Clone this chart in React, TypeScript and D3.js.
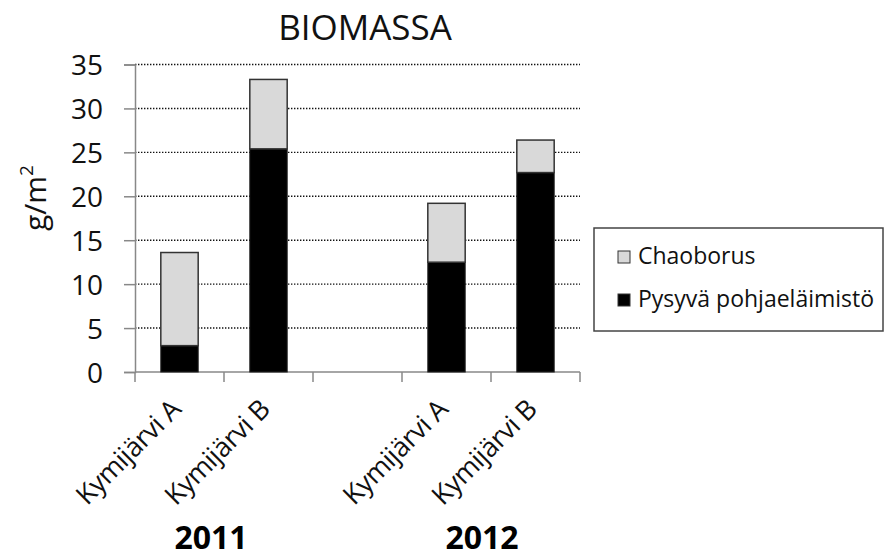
import React, { useEffect, useRef } from "react";
import * as d3 from "d3";

// data
const categories = ["2011 A", "2011 B", "", "2012 A", "2012 B"];
const catLabels = ["Kymijärvi A", "Kymijärvi B", "", "Kymijärvi A", "Kymijärvi B"];
const pysyva = [3.0, 25.4, 0, 12.5, 22.7];
const chaoborus = [10.6, 7.9, 0, 6.7, 3.7];
const yTicks = [0, 5, 10, 15, 20, 25, 30, 35];
const years = ["2011", "2012"];
const seriesNames = ["Chaoborus", "Pysyvä pohjaeläimistö"];

const FONT = "'Open Sans', sans-serif";

const App = () => {
  const ref = useRef<SVGSVGElement>(null);

  useEffect(() => {
    const width = 886;
    const height = 559;
    const margin = { top: 64.5, left: 135, bottom: 187, right: 306 };

    const svg = d3.select(ref.current);
    svg.selectAll("*").remove();
    svg.attr("width", width).attr("height", height);

    const x = d3
      .scaleBand()
      .domain(categories.map((c, i) => i + ":" + c))
      .range([margin.left, width - margin.right])
      .padding(0);

    const y = d3
      .scaleLinear()
      .domain([0, 35])
      .range([height - margin.bottom, margin.top]);

    const key = (i: number) => i + ":" + categories[i];

    // title
    svg
      .append("text")
      .attr("x", 365)
      .attr("y", 40)
      .attr("text-anchor", "middle")
      .attr("font-family", FONT)
      .attr("font-size", 35)
      .attr("fill", "#111")
      .text("BIOMASSA");

    // grid lines
    svg
      .append("g")
      .selectAll("line")
      .data(yTicks.filter((t) => t > 0))
      .enter()
      .append("line")
      .attr("x1", margin.left)
      .attr("x2", width - margin.right)
      .attr("y1", (d) => y(d))
      .attr("y2", (d) => y(d))
      .attr("stroke", "#111")
      .attr("stroke-width", 1.4)
      .attr("stroke-dasharray", "1.4,1.6");

    // y axis
    const yAxis = (g: any) =>
      g
        .attr("transform", `translate(${margin.left}, 0)`)
        .call(d3.axisLeft(y).tickValues(yTicks).tickSize(11).tickPadding(21))
        .call((g: any) => g.selectAll("line").attr("stroke", "#888").attr("stroke-width", 1.5))
        .call((g: any) => g.select(".domain").attr("stroke", "#888").attr("stroke-width", 1.5))
        .call((g: any) =>
          g
            .selectAll("text")
            .attr("font-family", FONT)
            .attr("font-size", 28)
            .attr("fill", "#111")
            .attr("dy", "0.36em")
        );
    svg.append("g").call(yAxis).attr("font-size", null).attr("font-family", null);

    // x axis line + boundary ticks
    const xg = svg.append("g");
    xg.append("line")
      .attr("x1", margin.left)
      .attr("x2", width - margin.right)
      .attr("y1", y(0))
      .attr("y2", y(0))
      .attr("stroke", "#888")
      .attr("stroke-width", 1.5);
    const bounds = categories.map((c, i) => x(key(i)) as number).concat([width - margin.right]);
    xg.selectAll(".xt")
      .data(bounds)
      .enter()
      .append("line")
      .attr("x1", (d) => d)
      .attr("x2", (d) => d)
      .attr("y1", y(0))
      .attr("y2", y(0) + 10)
      .attr("stroke", "#888")
      .attr("stroke-width", 1.5);

    // stacked bars
    const barW = x.bandwidth() * 0.42;
    const idx = categories.map((c, i) => i).filter((i) => categories[i] !== "");
    const bars = svg.append("g");
    bars
      .selectAll(".low")
      .data(idx)
      .enter()
      .append("rect")
      .attr("x", (i) => (x(key(i)) as number) + (x.bandwidth() - barW) / 2)
      .attr("y", (i) => y(pysyva[i]))
      .attr("width", barW)
      .attr("height", (i) => y(0) - y(pysyva[i]))
      .attr("fill", "#000")
      .attr("stroke", "#222")
      .attr("stroke-width", 1);
    bars
      .selectAll(".high")
      .data(idx)
      .enter()
      .append("rect")
      .attr("x", (i) => (x(key(i)) as number) + (x.bandwidth() - barW) / 2)
      .attr("y", (i) => y(pysyva[i] + chaoborus[i]))
      .attr("width", barW)
      .attr("height", (i) => y(pysyva[i]) - y(pysyva[i] + chaoborus[i]))
      .attr("fill", "#d9d9d9")
      .attr("stroke", "#333")
      .attr("stroke-width", 1.5);

    // category labels, rotated
    svg
      .append("g")
      .selectAll("text")
      .data(idx)
      .enter()
      .append("text")
      .attr(
        "transform",
        (i) => `translate(${(x(key(i)) as number) + x.bandwidth() / 2 + 3}, 411) rotate(-45)`
      )
      .attr("text-anchor", "end")
      .attr("font-family", FONT)
      .attr("font-size", 27)
      .attr("letter-spacing", -0.4)
      .attr("fill", "#111")
      .text((i) => catLabels[i]);

    // year labels
    const yearX = [
      ((x(key(0)) as number) + (x(key(1)) as number) + x.bandwidth()) / 2 - 13,
      ((x(key(3)) as number) + (x(key(4)) as number) + x.bandwidth()) / 2 - 9,
    ];
    svg
      .append("g")
      .selectAll("text")
      .data(years)
      .enter()
      .append("text")
      .attr("x", (d, i) => yearX[i])
      .attr("y", 549)
      .attr("text-anchor", "middle")
      .attr("font-family", FONT)
      .attr("font-weight", "bold")
      .attr("font-size", 32)
      .attr("fill", "#000")
      .text((d) => d);

    // y label
    const yl = svg
      .append("text")
      .attr("transform", "translate(46, 198) rotate(-90)")
      .attr("text-anchor", "middle")
      .attr("font-family", FONT)
      .attr("font-size", 30)
      .attr("fill", "#111");
    yl.append("tspan").text("g/m");
    yl.append("tspan").attr("font-size", 19).attr("dy", -13).text("2");

    // legend
    const lg = svg.append("g");
    lg.append("rect")
      .attr("x", 594)
      .attr("y", 228)
      .attr("width", 289)
      .attr("height", 103)
      .attr("fill", "#fff")
      .attr("stroke", "#444")
      .attr("stroke-width", 1.5);
    const legendColors = ["#d9d9d9", "#000"];
    const item = lg
      .selectAll(".item")
      .data(seriesNames)
      .enter()
      .append("g")
      .attr("transform", (d, i) => `translate(0, ${i * 43})`);
    item
      .append("rect")
      .attr("x", 618)
      .attr("y", 251)
      .attr("width", 12)
      .attr("height", 12)
      .attr("fill", (d, i) => legendColors[i])
      .attr("stroke", "#333")
      .attr("stroke-width", 1);
    item
      .append("text")
      .attr("x", 638)
      .attr("y", 264)
      .attr("font-family", FONT)
      .attr("font-size", 23)
      .attr("fill", "#111")
      .text((d) => d);
  }, []);

  return <svg ref={ref} style={{ position: "absolute", left: 0, top: 0 }}></svg>;
};

export default App;
